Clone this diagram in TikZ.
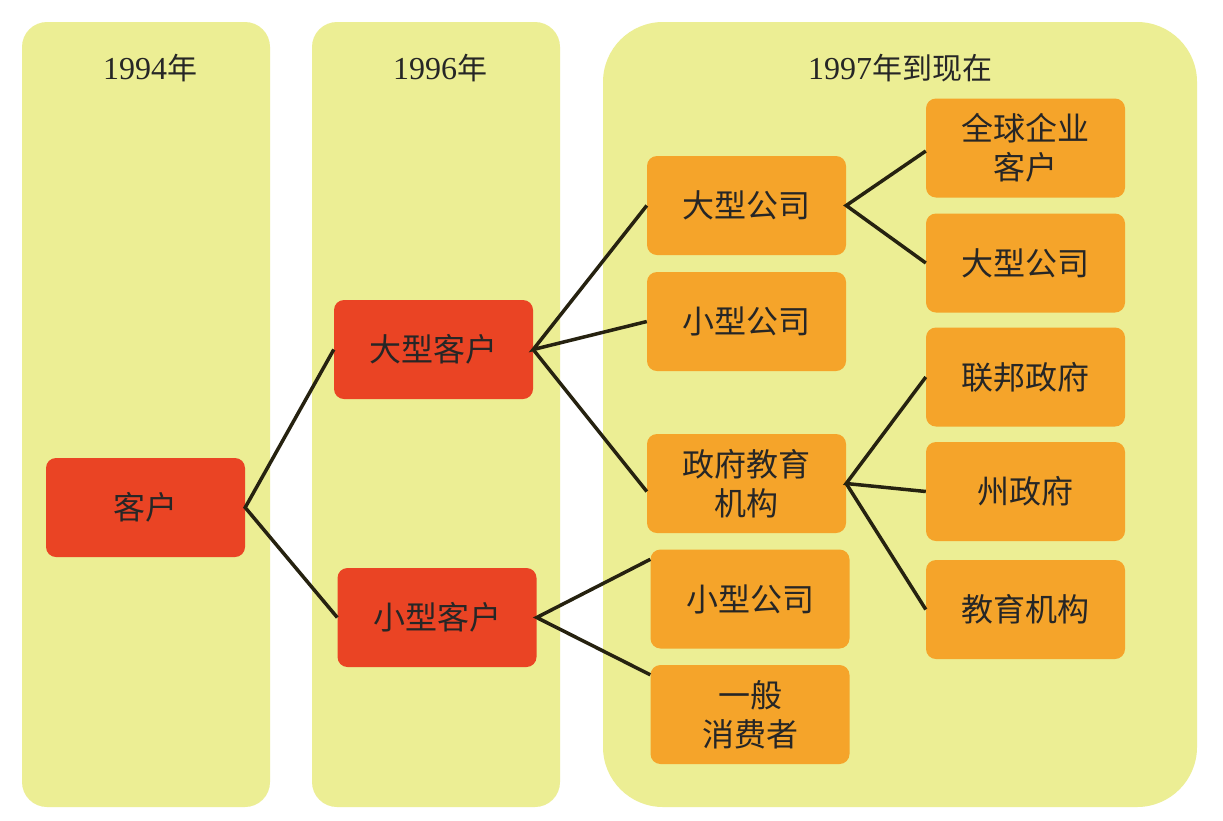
\documentclass[tikz,border=0pt]{standalone}
\usepackage{fontspec}
\setmainfont{Liberation Serif}
\newfontfamily\cjk{Noto Sans CJK SC}
\usetikzlibrary{calc}
\definecolor{colbg}{RGB}{236,238,148}
\definecolor{redbox}{RGB}{234,68,36}
\definecolor{orbox}{RGB}{245,164,42}
\definecolor{linec}{RGB}{38,34,16}
\begin{document}
\begin{tikzpicture}[x=1pt,y=-1pt,
  colpanel/.style={fill=colbg,draw=none},
  coltitle/.style={font=\fontsize{32}{34}\selectfont, text=black!85},
  basebox/.style={draw=none,rounded corners=10pt,minimum width=199pt,minimum height=99pt,align=center,inner sep=2pt,font=\cjk\fontsize{32}{39}\selectfont,text=black!85},
  redn/.style={basebox,fill=redbox},
  orn/.style={basebox,fill=orbox},
  conn/.style={draw=linec,line width=3.5pt}]
\useasboundingbox (0,0) rectangle (1223,820);
\fill[white] (0,0) rectangle (1223,820);
% columns
\fill[colpanel,rounded corners=25pt] (22,22) rectangle (270,807);
\fill[colpanel,rounded corners=25pt] (312,22) rectangle (560,807);
\fill[colpanel,rounded corners=60pt] (603,22) rectangle (1197,807);
\node[coltitle] (t1) at (150,68) {1994{\cjk\fontsize{30}{34}\selectfont 年}};
\node[coltitle] (t2) at (440,68) {1996{\cjk\fontsize{30}{34}\selectfont 年}};
\node[coltitle] (t3) at (900,68) {1997{\cjk\fontsize{30}{34}\selectfont 年到现在}};
% nodes
\node[redn] (kh) at (145.5,507.5) {客户};
\node[redn] (dkh) at (433.5,349.5) {大型客户};
\node[redn] (xkh) at (437,617.5) {小型客户};
\node[orn] (dgs) at (746.5,205.5) {大型公司};
\node[orn] (xgs) at (746.5,321.5) {小型公司};
\node[orn] (zf) at (746.5,483.5) {政府教育\\机构};
\node[orn] (xgs2) at (750,599) {小型公司};
\node[orn] (xfz) at (750,714.5) {一般\\消费者};
\node[orn] (qq) at (1025.5,148) {全球企业\\客户};
\node[orn] (dgs2) at (1025.5,263) {大型公司};
\node[orn] (lb) at (1025.5,377) {联邦政府};
\node[orn] (zz) at (1025.5,491.5) {州政府};
\node[orn] (jy) at (1025.5,609.5) {教育机构};
% connectors
\draw[conn] ($(dkh.north west)!0.5!(dkh.south west)$) -- (kh.east) -- ($(xkh.north west)!0.5!(xkh.south west)$);
\draw[conn] (dgs.west) -- (dkh.east) -- (xgs.west);
\draw[conn] (dkh.east) -- ($(zf.west)+(0,8)$);
\draw[conn] ($(qq.west)+(0,3)$) -- (dgs.east) -- (dgs2.west);
\draw[conn] (lb.west) -- (zf.east) -- (zz.west);
\draw[conn] (zf.east) -- (jy.west);
\draw[conn] ($(xgs2.north west)+(0,10)$) -- (xkh.east) -- ($(xfz.north west)+(0,10)$);
\end{tikzpicture}
\end{document}
